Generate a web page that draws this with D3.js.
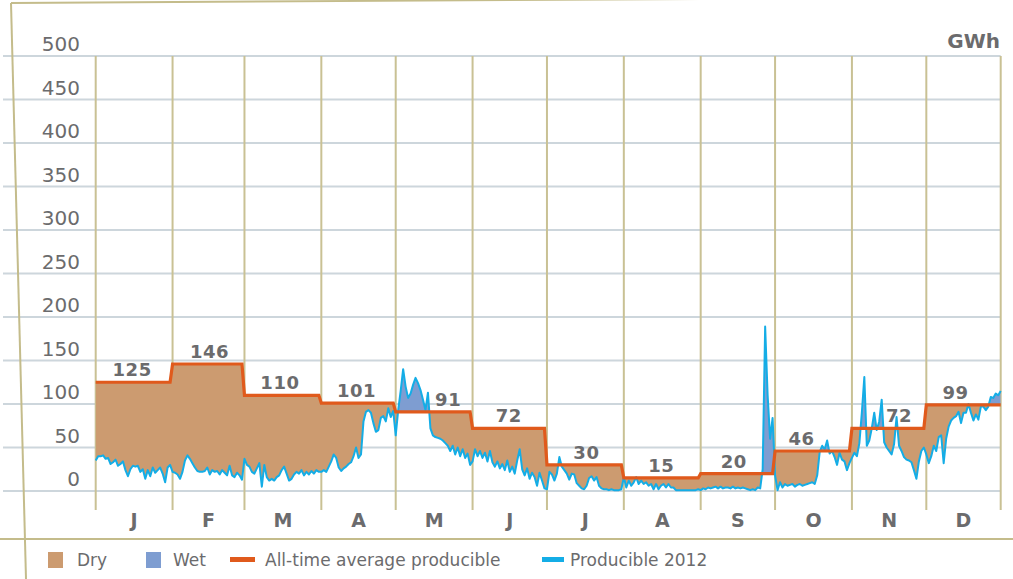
<!DOCTYPE html>
<html>
<head>
<meta charset="utf-8">
<script src="https://cdnjs.cloudflare.com/ajax/libs/d3/7.8.5/d3.min.js"></script>
<style>
  html, body { margin: 0; padding: 0; background: #fff; }
  svg { display: block; font-family: "DejaVu Sans", sans-serif; }
</style>
</head>
<body>
<svg id="chart"></svg>
<script>
// months and the all-time monthly average (GWh)
const monthLabels = ["J", "F", "M", "A", "M", "J", "J", "A", "S", "O", "N", "D"];
const avgProducible = [125, 146, 110, 101, 91, 72, 30, 15, 20, 46, 72, 99];

// daily producible 2012
const prodJan = [35,40,40,41,37,38,31,33,36,29, 31,34,24,17,25,29,28,29,22,25, 14,24,17,27,21,24,27,20,10,27, 30];
const prodFeb = [22,21,19,14,22,35,41,37,32,27, 23,22,22,23,27,19,24,22,23,19, 24,21,18,29,18,16,21,18,13];
const prodMar = [37,30,28,22,20,26,32,5,30,16, 12,14,12,16,18,24,28,20,12,14, 19,22,20,24,18,22,19,23,20,24, 22];
const prodApr = [22,24,22,28,34,42,38,27,23,26, 28,31,33,40,50,38,42,80,91,93, 90,78,68,70,84,86,80,95,85,92];
const prodMay = [64,93,115,140,120,107,112,122,130,124, 116,105,93,113,72,64,62,61,60,58, 55,52,46,52,42,50,40,48,38,43, 30];
const prodJun = [34,48,40,46,38,44,34,46,33,28, 34,26,31,24,35,22,28,20,35,48, 25,18,26,14,21,16,6,21,12,3];
const prodJul = [2,22,19,12,20,39,28,24,20,13, 20,19,9,6,3,2,6,15,17,12, 16,6,3,2,2,1,2,1,1,1, 2];
const prodAug = [16,4,12,6,10,16,8,12,8,10, 6,8,2,8,2,6,8,4,8,4, 4,1,1,1,1,1,1,1,1,1, 2];
const prodSep = [1,3,2,4,3,4,5,3,5,3, 4,4,3,5,3,4,3,4,3,2, 1,2,1,4,3,25,189,110,60,84];
const prodOct = [18,1,10,4,8,6,7,8,5,7, 8,6,7,8,9,10,8,18,45,52, 48,58,43,46,39,30,44,36,34,24, 32];
const prodNov = [38,44,40,55,90,131,52,58,72,90, 70,80,105,56,50,46,42,54,85,52, 46,39,36,35,33,24,14,34,46,50];
const prodDec = [42,32,40,52,46,62,64,32,60,74, 81,84,86,91,78,90,90,100,90,81, 88,82,97,97,93,97,108,107,112,110, 115];

const yTicks = [0, 50, 100, 150, 200, 250, 300, 350, 400, 450, 500];
const legendLabels = ["Dry", "Wet", "All-time average producible", "Producible 2012"];

const size = {width: 1013, height: 579};
const plot = {left: 95.7, right: 1000.7, top: 56, bottom: 491};

const colors = {
    dry: "#cc9b70",
    wet: "#7e9dd1",
    avg: "#e05a1c",
    prod: "#14ade6",
    grid: "#cdd6dc",
    month: "#c9c194",
    frame: "#c4bc8b",
    text: "#6b6b6d"
};

const producible2012 = [].concat(prodJan, prodFeb, prodMar, prodApr, prodMay, prodJun,
    prodJul, prodAug, prodSep, prodOct, prodNov, prodDec);

const start = new Date(2012, 0, 1);
const days = producible2012.map(function(v, i) {
    const date = d3.timeDay.offset(start, i);
    return {date: date, prod: v, avg: avgProducible[date.getMonth()]};
});

const svg = d3.select("#chart")
    .attr("width", size.width)
    .attr("height", size.height);

const x = d3.scaleTime()
    .domain([start, days[days.length - 1].date])
    .range([plot.left, plot.right]);

const y = d3.scaleLinear()
    .domain([0, 500])
    .range([plot.bottom, plot.top]);

const monthStarts = d3.timeMonth.range(start, new Date(2013, 0, 1));
const edges = monthStarts.map(function(d) { return x(d); }).concat([plot.right]);
const centers = monthLabels.map(function(m, i) { return (edges[i] + edges[i + 1]) / 2; });

// horizontal gridlines
svg.append("g")
    .selectAll("line")
    .data(yTicks)
    .enter().append("line")
    .attr("x1", 3)
    .attr("x2", plot.right)
    .attr("y1", function(d) { return y(d); })
    .attr("y2", function(d) { return y(d); })
    .attr("stroke", colors.grid)
    .attr("stroke-width", 2);

svg.append("g")
    .selectAll("text")
    .data(yTicks)
    .enter().append("text")
    .attr("x", 80)
    .attr("y", function(d) { return y(d) - 5; })
    .attr("text-anchor", "end")
    .attr("fill", colors.text)
    .style("font-size", "20px")
    .text(function(d) { return d; });

// month separators
svg.append("g")
    .selectAll("line")
    .data(edges)
    .enter().append("line")
    .attr("x1", function(d) { return d; })
    .attr("x2", function(d) { return d; })
    .attr("y1", plot.top)
    .attr("y2", 510)
    .attr("stroke", colors.month)
    .attr("stroke-width", 2);

// clip regions below / above the average line
const defs = svg.append("defs");
defs.append("clipPath").attr("id", "below")
    .append("path")
    .attr("d", d3.area()
        .x(function(d) { return x(d.date); })
        .y0(plot.bottom + 20)
        .y1(function(d) { return y(d.avg); })(days));
defs.append("clipPath").attr("id", "above")
    .append("path")
    .attr("d", d3.area()
        .x(function(d) { return x(d.date); })
        .y0(0)
        .y1(function(d) { return y(d.avg); })(days));

const between = d3.area()
    .x(function(d) { return x(d.date); })
    .y0(function(d) { return y(d.avg); })
    .y1(function(d) { return y(d.prod); });

svg.append("path")
    .attr("d", between(days))
    .attr("fill", colors.dry)
    .attr("clip-path", "url(#below)");

svg.append("path")
    .attr("d", between(days))
    .attr("fill", colors.wet)
    .attr("clip-path", "url(#above)");

svg.append("path")
    .attr("d", d3.line()
        .x(function(d) { return x(d.date); })
        .y(function(d) { return y(d.prod); })(days))
    .attr("fill", "none")
    .attr("stroke", colors.prod)
    .attr("stroke-width", 2)
    .attr("stroke-linejoin", "round");

svg.append("path")
    .attr("d", d3.line()
        .x(function(d) { return x(d.date); })
        .y(function(d) { return y(d.avg); })(days))
    .attr("fill", "none")
    .attr("stroke", colors.avg)
    .attr("stroke-width", 3.2);

// average labels, nudged sideways like the original
const labelNudge = [-2, 1, -3, -2, 14, -1, 1, -1, -4, -12, 10, -8];
svg.append("g")
    .selectAll("text")
    .data(avgProducible)
    .enter().append("text")
    .attr("x", function(d, i) { return centers[i] + labelNudge[i]; })
    .attr("y", function(d) { return y(d) - 6; })
    .attr("text-anchor", "middle")
    .attr("fill", colors.text)
    .style("font-size", "18px")
    .style("font-weight", "bold")
    .style("letter-spacing", "0.5px")
    .text(function(d) { return d; });

// month letters
svg.append("g")
    .selectAll("text")
    .data(monthLabels)
    .enter().append("text")
    .attr("x", function(d, i) { return centers[i]; })
    .attr("y", 527)
    .attr("text-anchor", "middle")
    .attr("fill", colors.text)
    .style("font-size", "19px")
    .style("font-weight", "bold")
    .text(function(d) { return d; });

svg.append("text")
    .attr("x", 1000)
    .attr("y", 48)
    .attr("text-anchor", "end")
    .attr("fill", colors.text)
    .style("font-size", "20px")
    .style("font-weight", "bold")
    .text("GWh");

// frame
const frame = svg.append("g")
    .attr("stroke", colors.frame)
    .attr("stroke-width", 2)
    .attr("fill", "none");
frame.append("line").attr("x1", 11).attr("y1", 3).attr("x2", 26).attr("y2", 579);
frame.append("line").attr("x1", 11).attr("y1", 3).attr("x2", 700).attr("y2", -1);
frame.append("line").attr("x1", 0).attr("y1", 539).attr("x2", size.width).attr("y2", 539);

// Legend
const legend = svg.append("g")
    .style("font-size", "17px")
    .attr("fill", colors.text);

legend.append("rect").attr("x", 48).attr("y", 552).attr("width", 15).attr("height", 16).attr("fill", colors.dry);
legend.append("rect").attr("x", 146).attr("y", 552).attr("width", 15).attr("height", 16).attr("fill", colors.wet);
legend.append("rect").attr("x", 230).attr("y", 557).attr("width", 25).attr("height", 5).attr("fill", colors.avg);
legend.append("rect").attr("x", 542).attr("y", 557).attr("width", 22).attr("height", 5).attr("fill", colors.prod);

const legendX = [77, 173, 265, 570];
legend.selectAll("text")
    .data(legendLabels)
    .enter().append("text")
    .attr("x", function(d, i) { return legendX[i]; })
    .attr("y", 566)
    .text(function(d) { return d; });
</script>
</body>
</html>
